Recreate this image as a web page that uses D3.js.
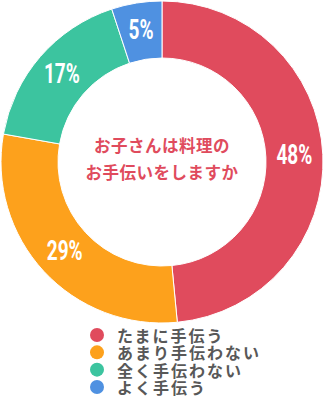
<!DOCTYPE html>
<html><head><meta charset="utf-8">
<script src="https://cdn.jsdelivr.net/npm/d3@7"></script>
<style>html,body{margin:0;padding:0;background:#fff;}</style>
</head><body>
<svg id="c" width="324" height="400"></svg>
<script>
const categories = ["たまに手伝う", "あまり手伝わない", "全く手伝わない", "よく手伝う"];
const values = [48, 29, 17, 5];
const colors = ["#E04B5D", "#FDA11C", "#3CC49F", "#4F91E1"];
const title = ["お子さんは料理の", "お手伝いをしますか"];

const svg = d3.select("#c");
const cx = 162, cy = 162, rOut = 161, rIn = 104;
const g = svg.append("g").attr("transform", `translate(${cx},${cy})`);
const pie = d3.pie().sort(null).value(d => d.v);
const data = pie(values.map((v, i) => ({v, i})));
const arc = d3.arc().innerRadius(rIn).outerRadius(rOut);
const color = d3.scaleOrdinal().domain(d3.range(categories.length)).range(colors);

g.selectAll("path").data(data).join("path")
  .attr("d", arc).attr("fill", d => color(d.data.i))
  .attr("stroke", "#fff").attr("stroke-width", 1);

const lab = d3.arc().innerRadius((rIn + rOut) / 2).outerRadius((rIn + rOut) / 2);
g.selectAll("text.pct").data(data).join("text").attr("class", "pct")
  .attr("transform", d => { const [x, y] = lab.centroid(d); return `translate(${x},${y + 8}) scale(0.68,1)`; })
  .attr("text-anchor", "middle")
  .attr("font-family", "Roboto, 'DejaVu Sans', sans-serif")
  .attr("font-weight", "bold").attr("font-size", 28).attr("fill", "#fff")
  .text(d => d.data.v + "%");

g.append("text")
  .attr("text-anchor", "middle")
  .attr("font-family", "'Noto Sans CJK JP', sans-serif").attr("font-weight", "bold")
  .attr("font-size", 16.5).attr("letter-spacing", 0.5).attr("fill", colors[0])
  .selectAll("tspan").data(title).join("tspan")
  .attr("x", 0).attr("y", (d, i) => -17 + i * 27).attr("dominant-baseline", "central")
  .text(d => d);

const y = d3.scalePoint().domain(d3.range(categories.length)).range([335, 387]);
const lg = svg.append("g");
lg.selectAll("circle").data(categories).join("circle")
  .attr("cx", 97).attr("cy", (d, i) => y(i)).attr("r", 7).attr("fill", (d, i) => color(i));
lg.append("text")
  .attr("font-family", "'Noto Sans CJK JP', sans-serif").attr("font-weight", "bold")
  .attr("font-size", 16).attr("letter-spacing", 2).attr("fill", "#585858")
  .selectAll("tspan").data(categories).join("tspan")
  .attr("x", 117).attr("y", (d, i) => y(i)).attr("dominant-baseline", "central")
  .text(d => d);
</script>
</body></html>
